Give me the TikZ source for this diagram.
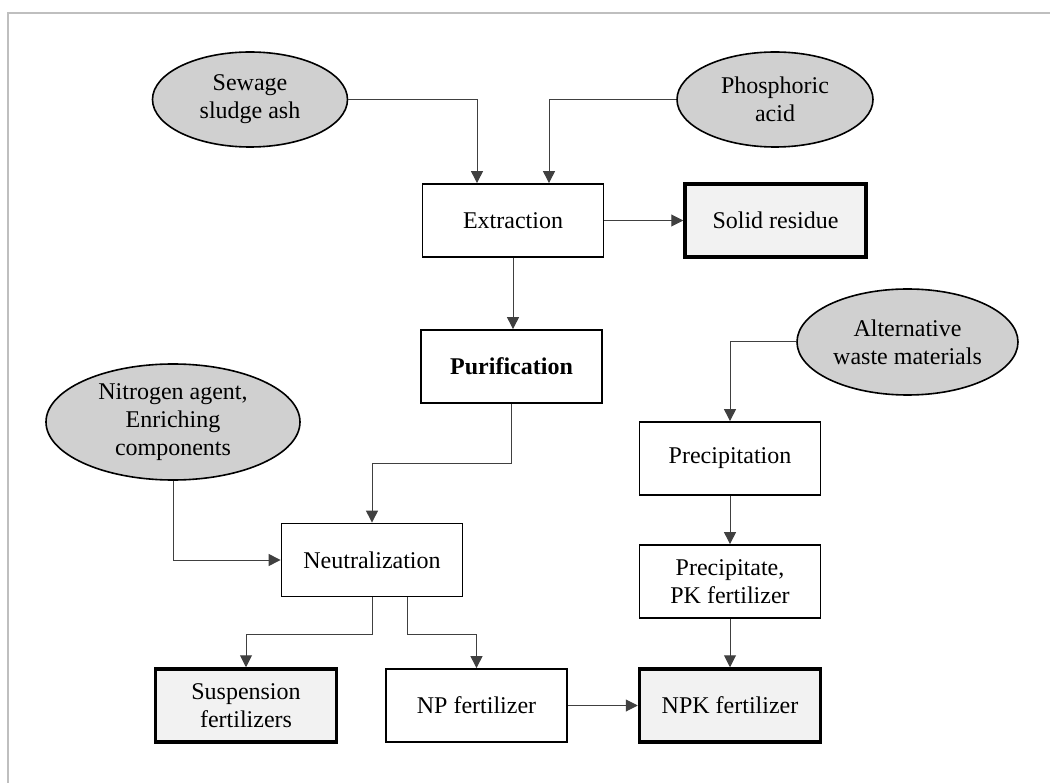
\documentclass[tikz,border=0pt]{standalone}
\usepackage{fontspec}
\setmainfont{Liberation Serif}
\usepackage{tikz}
\usetikzlibrary{arrows.meta,shapes.geometric}
\definecolor{inputgray}{HTML}{D0D0D0}
\definecolor{outgray}{HTML}{F2F2F2}
\definecolor{framegray}{HTML}{BFBFBF}
\definecolor{linegray}{HTML}{404040}
\newcommand{\boxfont}{\fontsize{24}{28}\selectfont}

\begin{document}
\begin{tikzpicture}[x=1pt, y=-1pt,
    every node/.style={font=\boxfont, align=center, inner sep=0pt},
    feed/.style={ellipse, draw=black, line width=1.6pt, fill=inputgray},
    stage/.style={rectangle, draw=black, line width=1.8pt, fill=white, minimum width=181pt, minimum height=73pt},
    product/.style={stage, line width=3.5pt, fill=outgray},
    arr/.style={draw=linegray, line width=1pt, -{Triangle[length=12pt,width=12pt]}}]
    \useasboundingbox (0,0) rectangle (1050,783);
    \draw[framegray, line width=1.5pt] (1050,13) -- (8,13) -- (8,783);

    \node[feed, minimum width=195pt, minimum height=95pt] (ash) at (250,99.5) {Sewage\\sludge ash};
    \node[feed, minimum width=196pt, minimum height=95pt] (acid) at (775,99.5) {Phosphoric\\acid};
    \node[stage] (extr) at (513,220.5) {Extraction};
    \node[product] (resid) at (775.5,220.5) {Solid residue};
    \node[stage] (purif) at (511.5,366.5) {\textbf{Purification}};
    \node[feed, minimum width=254pt, minimum height=116pt] (nitro) at (173,422) {Nitrogen agent,\\Enriching\\components};
    \node[feed, minimum width=221pt, minimum height=106pt] (altw) at (907.5,342) {Alternative\\waste materials};
    \node[stage] (neutr) at (372,560) {Neutralization};
    \node[stage] (precip) at (730,458.5) {Precipitation};
    \node[stage] (pkfert) at (730,581.5) {Precipitate,\\PK fertilizer};
    \node[product] (susp) at (246,705.5) {Suspension\\fertilizers};
    \node[stage] (npfert) at (476.5,705.5) {NP fertilizer};
    \node[product] (npkfert) at (730,705.5) {NPK fertilizer};

    \draw[arr] (ash.east) -| ([xshift=-36pt]extr.north);
    \draw[arr] (acid.west) -| ([xshift=36pt]extr.north);
    \draw[arr] (extr) -- (resid);
    \draw[arr] (extr.south) -- (extr.south |- purif.north);
    \draw[arr] (purif.south) -- ++(0,60) -| (neutr.north);
    \draw[arr] (nitro.south) |- (neutr.west);
    \draw[arr] (neutr.south) -- ++(0,37) -| (susp.north);
    \draw[arr] ([xshift=35pt]neutr.south) -- ++(0,37) -| (npfert.north);
    \draw[arr] (npfert) -- (npkfert);
    \draw[arr] (altw.west) -| (precip.north);
    \draw[arr] (precip) -- (pkfert);
    \draw[arr] (pkfert) -- (npkfert);
\end{tikzpicture}
\end{document}
